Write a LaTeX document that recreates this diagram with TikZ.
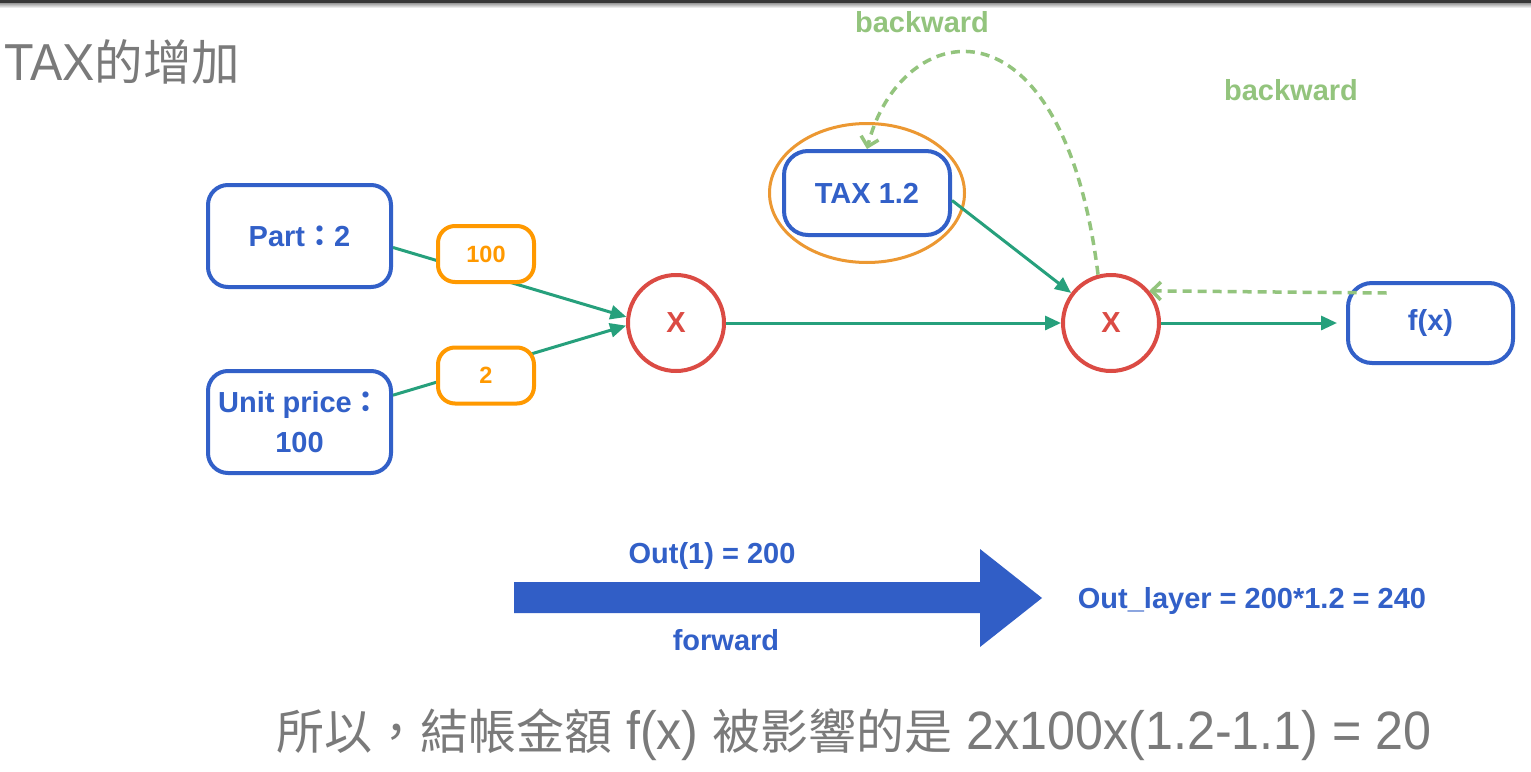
\documentclass[tikz,border=0pt]{standalone}
\usepackage{fontspec}
\setmainfont{Liberation Sans}
\newfontfamily\cjkfont{Noto Sans CJK TC}
\newfontfamily\slidefont[FakeStretch=0.93]{Liberation Sans}
\usetikzlibrary{arrows.meta}
\definecolor{boxblue}{RGB}{50,96,200}
\definecolor{mulred}{RGB}{219,75,68}
\definecolor{valorange}{RGB}{255,153,0}
\definecolor{ringorange}{RGB}{236,152,50}
\definecolor{flowgreen}{RGB}{38,160,124}
\definecolor{backgreen}{RGB}{147,196,125}
\definecolor{slidegray}{RGB}{122,122,122}
\definecolor{arrowblue}{RGB}{49,94,198}
\newcommand\zhtext[2][48]{{\cjkfont\fontsize{#1}{#1}\selectfont #2}}
\newcommand\fwcolon{{\cjkfont ：}}
\tikzset
{
	labelfont/.style = {font=\fontsize{29}{40}\selectfont\bfseries},
	varbox/.style = {rectangle, rounded corners=20pt, draw=boxblue, line width=4pt, text=boxblue, align=center, minimum width=183pt, minimum height=102pt, labelfont},
	valbox/.style = {rectangle, rounded corners=17pt, draw=valorange, fill=white, line width=4pt, text=valorange, minimum width=96pt, minimum height=56pt, font=\fontsize{23.5}{28}\selectfont\bfseries},
	mulnode/.style = {circle, draw=mulred, line width=4pt, text=mulred, minimum size=96pt, labelfont},
	ring/.style = {draw=ringorange, line width=3pt},
	flowarrow/.style = {draw=flowgreen, line width=3pt, -{Triangle[length=16pt,width=14pt]}},
	backarrow/.style = {draw=backgreen, line width=3.5pt, dash pattern=on 9pt off 6pt, -{Straight Barb[length=9pt,width=18pt]}},
	backlabel/.style = {text=backgreen, labelfont, inner sep=0pt},
	fwdlabel/.style = {text=boxblue, labelfont, inner sep=0pt},
	slidetext/.style = {text=slidegray, font=\slidefont\fontsize{54}{60}\selectfont, inner sep=0pt}
}

\begin{document}
\begin{tikzpicture}[x=1pt, y=-1pt]
\useasboundingbox (0,0) rectangle (1531,771);
\fill[white] (0,0) rectangle (1531,771);
\fill[black!78] (0,0) rectangle (1531,3);
\shade[top color=black!40, bottom color=white] (0,3) rectangle (1531,8);

\node[slidetext, anchor=base west, font=\slidefont\fontsize{52}{60}\selectfont] (title) at (4,80) {TAX\zhtext[48.5]{的增加}};

\node[varbox] (part) at (299.5,236) {Part\fwcolon 2};
\node[varbox] (unit) at (299.5,422) {Unit price\fwcolon\\100};
\node[mulnode] (mul1) at (676,323) {X};
\node[mulnode] (mul2) at (1111,323) {X};
\node[varbox, minimum width=166pt, minimum height=84pt, rounded corners=24pt] (tax) at (867,193) {TAX 1.2};
\node[varbox, minimum width=165pt, minimum height=80pt, rounded corners=24pt] (fx) at (1430.5,323) {f(x)};
\draw[ring] (tax.center) ellipse [x radius=97.5pt, y radius=69.5pt];

\draw[flowarrow] (part.-7.5) -- (mul1.173);
\draw[flowarrow] (unit.16) -- (mul1.183);
\node[valbox] (partval) at (486,254) {100};
\node[valbox] (unitval) at (486,375.5) {2};
\draw[flowarrow] (mul1) -- (mul2);
\draw[flowarrow] (tax.-5) -- (mul2.143);
\draw[flowarrow, shorten >=9pt] (mul2) -- (fx);

\path (fx.center) ++(-44,-30) coordinate (gradstart);
\draw[backarrow] (gradstart) -- (mul2.40);
\draw[backarrow] (mul2.105) .. controls (1062,-15) and (900,18) .. (tax.north);
\node[backlabel] (gradtop) at (922,22) {backward};
\node[backlabel] (gradright) at (1291,90) {backward};

\fill[arrowblue] (514,582) -- (980,582) -- (980,549) -- (1042,598) -- (980,647) -- (980,613) -- (514,613) -- cycle;
\node[fwdlabel, anchor=base] (out1) at (712,563) {Out(1) = 200};
\node[fwdlabel, anchor=base] (fwd) at (726,650) {forward};
\node[fwdlabel, anchor=base] (outlayer) at (1252,608) {Out\_layer = 200*1.2 = 240};

\node[slidetext, anchor=base west] (summary) at (276,749) {\zhtext{所以，結帳金額} f(x) \zhtext{被影響的是} 2x100x(1.2-1.1) = 20};
\end{tikzpicture}
\end{document}
